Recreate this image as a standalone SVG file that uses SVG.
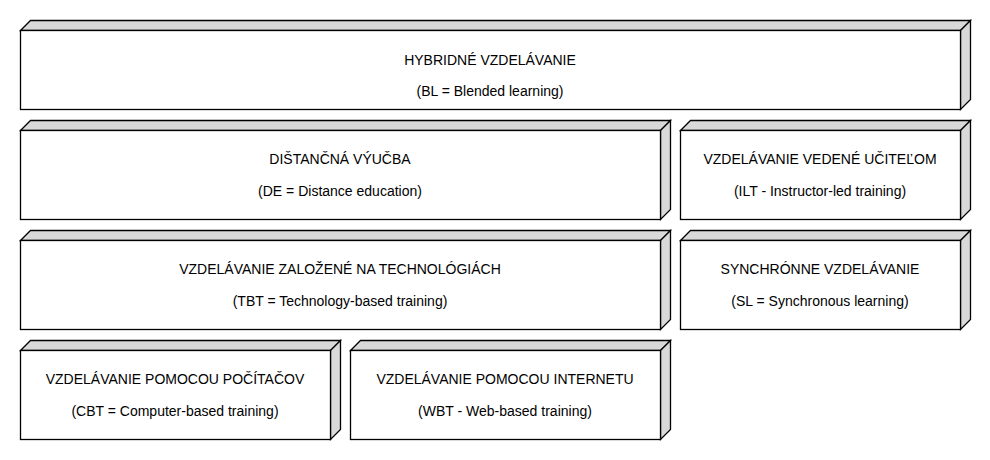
<svg xmlns="http://www.w3.org/2000/svg" width="990" height="460" viewBox="0 0 990 460">
<style>
.front{fill:#ffffff;stroke:#000;stroke-width:1.3}
.side{fill:#d9d9d9;stroke:#000;stroke-width:1.3;stroke-linejoin:miter}
text{font-family:"Liberation Sans",Arial,sans-serif;font-size:14px;fill:#000;text-anchor:middle}
</style>
<rect width="990" height="460" fill="#fff"/>
<g id="bl">
<polygon class="side" points="20.5,30.5 30.5,20.5 970.5,20.5 960.5,30.5"/>
<polygon class="side" points="960.5,30.5 970.5,20.5 970.5,99.5 960.5,109.5"/>
<rect class="front" x="20.5" y="30.5" width="940" height="79"/>
<text x="490" y="65">HYBRIDNÉ VZDELÁVANIE</text>
<text x="490" y="96">(BL = Blended learning)</text>
</g>
<g id="de">
<polygon class="side" points="20.5,130.5 30.5,120.5 670.5,120.5 660.5,130.5"/>
<polygon class="side" points="660.5,130.5 670.5,120.5 670.5,209.5 660.5,219.5"/>
<rect class="front" x="20.5" y="130.5" width="640" height="89"/>
<text x="340" y="164">DIŠTANČNÁ VÝUČBA</text>
<text x="340" y="196">(DE = Distance education)</text>
</g>
<g id="ilt">
<polygon class="side" points="680.5,130.5 690.5,120.5 970.5,120.5 960.5,130.5"/>
<polygon class="side" points="960.5,130.5 970.5,120.5 970.5,209.5 960.5,219.5"/>
<rect class="front" x="680.5" y="130.5" width="280" height="89"/>
<text x="820" y="164">VZDELÁVANIE VEDENÉ UČITEĽOM</text>
<text x="820" y="196">(ILT - Instructor-led training)</text>
</g>
<g id="tbt">
<polygon class="side" points="20.5,240.5 30.5,230.5 670.5,230.5 660.5,240.5"/>
<polygon class="side" points="660.5,240.5 670.5,230.5 670.5,319.5 660.5,329.5"/>
<rect class="front" x="20.5" y="240.5" width="640" height="89"/>
<text x="340" y="274">VZDELÁVANIE ZALOŽENÉ NA TECHNOLÓGIÁCH</text>
<text x="340" y="306">(TBT = Technology-based training)</text>
</g>
<g id="sl">
<polygon class="side" points="680.5,240.5 690.5,230.5 970.5,230.5 960.5,240.5"/>
<polygon class="side" points="960.5,240.5 970.5,230.5 970.5,319.5 960.5,329.5"/>
<rect class="front" x="680.5" y="240.5" width="280" height="89"/>
<text x="820" y="274">SYNCHRÓNNE VZDELÁVANIE</text>
<text x="820" y="306">(SL = Synchronous learning)</text>
</g>
<g id="cbt">
<polygon class="side" points="20.5,350.5 30.5,340.5 340.5,340.5 330.5,350.5"/>
<polygon class="side" points="330.5,350.5 340.5,340.5 340.5,429.5 330.5,439.5"/>
<rect class="front" x="20.5" y="350.5" width="310" height="89"/>
<text x="175" y="384">VZDELÁVANIE POMOCOU POČÍTAČOV</text>
<text x="175" y="416">(CBT = Computer-based training)</text>
</g>
<g id="wbt">
<polygon class="side" points="350.5,350.5 360.5,340.5 670.5,340.5 660.5,350.5"/>
<polygon class="side" points="660.5,350.5 670.5,340.5 670.5,429.5 660.5,439.5"/>
<rect class="front" x="350.5" y="350.5" width="310" height="89"/>
<text x="505" y="384">VZDELÁVANIE POMOCOU INTERNETU</text>
<text x="505" y="416">(WBT - Web-based training)</text>
</g>
<g id="connectors"></g>
</svg>
